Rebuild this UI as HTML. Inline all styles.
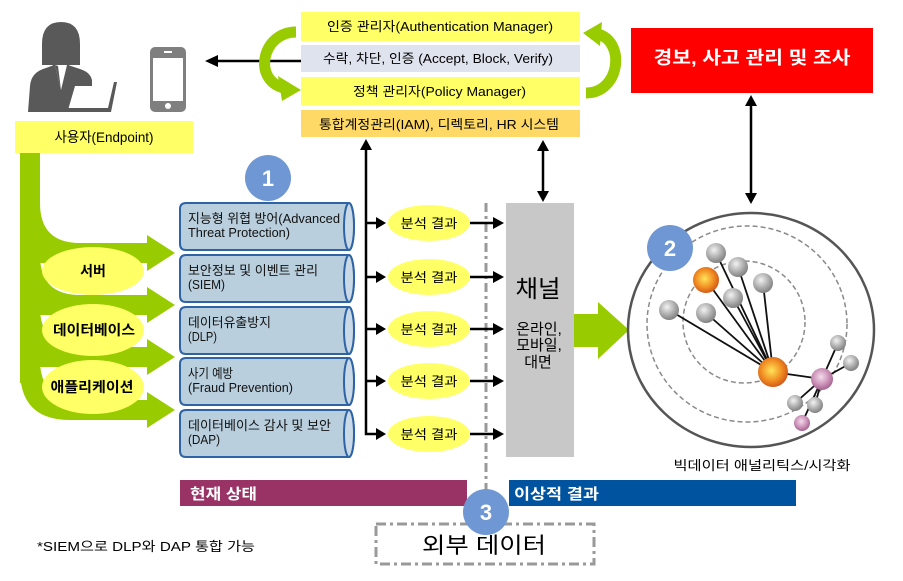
<!DOCTYPE html>
<html><head><meta charset="utf-8">
<style>
html,body{margin:0;padding:0;background:#fff;}
svg{display:block;}
text{font-family:"Liberation Sans","Noto Sans CJK KR",sans-serif;}
</style></head>
<body>
<svg width="903" height="581" viewBox="0 0 903 581" xmlns="http://www.w3.org/2000/svg">
<defs>
<radialGradient id="gg" cx="0.4" cy="0.35" r="0.7">
<stop offset="0" stop-color="#f2f2f2"/><stop offset="0.6" stop-color="#a8a8a8"/><stop offset="1" stop-color="#7a7a7a"/>
</radialGradient>
<radialGradient id="og" cx="0.45" cy="0.45" r="0.6">
<stop offset="0" stop-color="#ffe45a"/><stop offset="0.6" stop-color="#f08a20"/><stop offset="1" stop-color="#c9501a"/>
</radialGradient>
<radialGradient id="pg" cx="0.45" cy="0.4" r="0.65">
<stop offset="0" stop-color="#f3dcec"/><stop offset="0.6" stop-color="#c88cb4"/><stop offset="1" stop-color="#9a5a86"/>
</radialGradient>
</defs>

<!-- person icon -->
<path d="M42,44 Q42,22 61,22 Q80,22 80,44 L80,65 L42,65 Z" fill="#595959"/>
<rect x="53" y="55" width="16" height="14" fill="#595959"/>
<path d="M28,112 L30,86 Q31,72 46,68 L54,65 L68,65 L80,69 Q90,72 92,80 L92,86 L75,86 L68,110 L70,112 Z" fill="#595959"/>
<polygon points="55,65 67,65 61,90" fill="#fff"/>
<polygon points="55,65 61,90 58,66" fill="#595959"/>
<path d="M68,108 L108,108 L114,82 L117,82 L111,112 L68,112 Z" fill="#595959"/>

<!-- phone -->
<rect x="150" y="47" width="36" height="65" rx="5" fill="#7f7f7f"/>
<rect x="153" y="58" width="30" height="43" fill="#fff"/>
<rect x="164" y="51" width="8" height="2" fill="#fff"/>
<circle cx="168" cy="106" r="3" fill="#fff"/>

<!-- endpoint label -->
<rect x="15" y="121" width="178" height="32" fill="#ffff66"/>
<text x="104" y="142" font-size="14" text-anchor="middle" textLength="99" lengthAdjust="spacingAndGlyphs">사용자(Endpoint)</text>

<!-- left green trunk & branches -->
<g fill="#99cc00">
<rect x="20" y="153" width="20" height="230"/>
<path d="M40,203 Q40,243 80,243 L147,243 L147,235 L175,253 L147,271 L147,263 L40,263 Z"/>
<path d="M40,255 Q40,295 80,295 L147,295 L147,287 L175,305 L147,323 L147,315 L40,315 Z"/>
<path d="M40,307 Q40,347 80,347 L147,347 L147,339 L175,357 L147,375 L147,367 L40,367 Z"/>
<path d="M40,360 Q40,400 80,400 L147,400 L147,392 L175,410 L147,428 L147,420 L70,420 Q20,420 20,370 Z"/>
</g>
<g fill="#ffff66">
<ellipse cx="93" cy="271" rx="51" ry="24"/>
<ellipse cx="93" cy="330" rx="51" ry="26"/>
<ellipse cx="93" cy="387" rx="51" ry="27"/>
</g>
<g font-size="14" font-weight="bold" text-anchor="middle">
<text x="93" y="276">서버</text>
<text x="94" y="335" textLength="82" lengthAdjust="spacingAndGlyphs">데이터베이스</text>
<text x="92" y="392" textLength="83" lengthAdjust="spacingAndGlyphs">애플리케이션</text>
</g>

<!-- top boxes -->
<rect x="301" y="12" width="279" height="29" fill="#ffff66"/>
<rect x="301" y="45" width="279" height="27" fill="#dfe3ee"/>
<rect x="301" y="77" width="279" height="28" fill="#ffff66"/>
<rect x="301" y="110" width="279" height="27" fill="#ffd966"/>
<g font-size="13">
<text x="327" y="31" textLength="226" lengthAdjust="spacingAndGlyphs">인증 관리자(Authentication  Manager)</text>
<text x="323" y="63" textLength="230" lengthAdjust="spacingAndGlyphs">수락, 차단, 인증 (Accept, Block, Verify)</text>
<text x="353" y="96" textLength="173" lengthAdjust="spacingAndGlyphs">정책 관리자(Policy  Manager)</text>
<text x="319" y="129" textLength="240" lengthAdjust="spacingAndGlyphs">통합계정관리(IAM), 디렉토리, HR 시스템</text>
</g>

<!-- arrow to phone -->
<line x1="214" y1="61" x2="301" y2="61" stroke="#000" stroke-width="2.5"/>
<polygon points="205,61 218,55 218,67" fill="#000"/>

<!-- green curved arrows around top boxes -->
<path d="M296,32 C262,32 252,80 284,88" fill="none" stroke="#99cc00" stroke-width="11"/>
<polygon points="278,76 301,90 282,101" fill="#99cc00"/>
<path d="M586,93 C620,93 626,42 598,34" fill="none" stroke="#99cc00" stroke-width="11"/>
<polygon points="602,22 583,33 600,46" fill="#99cc00"/>

<!-- red box -->
<rect x="631" y="28" width="242" height="65" fill="#ff0000"/>
<text x="752" y="64" font-size="18" font-weight="bold" fill="#fff" text-anchor="middle" textLength="197" lengthAdjust="spacingAndGlyphs">경보, 사고 관리 및 조사</text>

<!-- vertical double arrows -->
<line x1="751" y1="104" x2="751" y2="195" stroke="#000" stroke-width="2.5"/>
<polygon points="751,95 745,106 757,106" fill="#000"/>
<polygon points="751,204 745,193 757,193" fill="#000"/>
<line x1="543" y1="149" x2="543" y2="193" stroke="#000" stroke-width="2.5"/>
<polygon points="543,140 537,151 549,151" fill="#000"/>
<polygon points="543,202 537,191 549,191" fill="#000"/>

<!-- badge 1 -->
<circle cx="268" cy="178" r="23" fill="#6f97d4"/>
<text x="268" y="186" font-size="22" font-weight="bold" fill="#fff" text-anchor="middle">1</text>

<!-- cylinders -->
<g stroke="#2e63a6" stroke-width="2" fill="#b9cfdd">
<path d="M186,203 H349 A5,23.5 0 0 1 349,250 H186 Q180,250 180,244 V209 Q180,203 186,203 Z"/>
<ellipse cx="349" cy="226.5" rx="5" ry="23.5" fill="#c9dae6"/>
<path d="M186,255 H349 A5,23.5 0 0 1 349,302 H186 Q180,302 180,296 V261 Q180,255 186,255 Z"/>
<ellipse cx="349" cy="278.5" rx="5" ry="23.5" fill="#c9dae6"/>
<path d="M186,307 H349 A5,23.5 0 0 1 349,354 H186 Q180,354 180,348 V313 Q180,307 186,307 Z"/>
<ellipse cx="349" cy="330.5" rx="5" ry="23.5" fill="#c9dae6"/>
<path d="M186,358 H349 A5,23.5 0 0 1 349,405 H186 Q180,405 180,399 V364 Q180,358 186,358 Z"/>
<ellipse cx="349" cy="381.5" rx="5" ry="23.5" fill="#c9dae6"/>
<path d="M186,410 H349 A5,23.5 0 0 1 349,457 H186 Q180,457 180,451 V416 Q180,410 186,410 Z"/>
<ellipse cx="349" cy="433.5" rx="5" ry="23.5" fill="#c9dae6"/>
</g>
<g font-size="13" fill="#111">
<text x="188" y="223" textLength="152" lengthAdjust="spacingAndGlyphs">지능형 위협 방어(Advanced</text>
<text x="188" y="237" textLength="102" lengthAdjust="spacingAndGlyphs">Threat Protection)</text>
<text x="188" y="275" textLength="130" lengthAdjust="spacingAndGlyphs">보안정보 및 이벤트 관리</text>
<text x="188" y="289" textLength="37" lengthAdjust="spacingAndGlyphs">(SIEM)</text>
<text x="188" y="327" textLength="83" lengthAdjust="spacingAndGlyphs">데이터유출방지</text>
<text x="188" y="341" textLength="29" lengthAdjust="spacingAndGlyphs">(DLP)</text>
<text x="188" y="378" textLength="45" lengthAdjust="spacingAndGlyphs">사기 예방</text>
<text x="188" y="392" textLength="105" lengthAdjust="spacingAndGlyphs">(Fraud Prevention)</text>
<text x="188" y="430" textLength="143" lengthAdjust="spacingAndGlyphs">데이터베이스 감사 및 보안</text>
<text x="188" y="444" textLength="32" lengthAdjust="spacingAndGlyphs">(DAP)</text>
</g>

<!-- vertical connector line -->
<path d="M366,148 V434 H378" fill="none" stroke="#000" stroke-width="2.5"/>
<polygon points="366,139 360,150 372,150" fill="#000"/>
<g stroke="#000" stroke-width="2.5">
<line x1="366" y1="223" x2="378" y2="223"/>
<line x1="366" y1="277" x2="378" y2="277"/>
<line x1="366" y1="329" x2="378" y2="329"/>
<line x1="366" y1="381" x2="378" y2="381"/>
</g>
<g fill="#000">
<polygon points="386,223 376,217 376,229"/>
<polygon points="386,277 376,271 376,283"/>
<polygon points="386,329 376,323 376,335"/>
<polygon points="386,381 376,375 376,387"/>
<polygon points="386,434 376,428 376,440"/>
</g>

<!-- dashed separator -->
<line x1="486" y1="203" x2="486" y2="492" stroke="#999" stroke-width="3" stroke-dasharray="9 4 3 4"/>

<!-- analysis ellipses -->
<g fill="#ffff66">
<ellipse cx="429" cy="223" rx="41" ry="18"/>
<ellipse cx="429" cy="277" rx="41" ry="18"/>
<ellipse cx="429" cy="329" rx="41" ry="18"/>
<ellipse cx="429" cy="381" rx="41" ry="18"/>
<ellipse cx="429" cy="434" rx="41" ry="18"/>
</g>
<g font-size="13" text-anchor="middle">
<text x="429" y="228" textLength="57" lengthAdjust="spacingAndGlyphs">분석 결과</text>
<text x="429" y="282" textLength="57" lengthAdjust="spacingAndGlyphs">분석 결과</text>
<text x="429" y="334" textLength="57" lengthAdjust="spacingAndGlyphs">분석 결과</text>
<text x="429" y="386" textLength="57" lengthAdjust="spacingAndGlyphs">분석 결과</text>
<text x="429" y="439" textLength="57" lengthAdjust="spacingAndGlyphs">분석 결과</text>
</g>
<g stroke="#000" stroke-width="2.5">
<line x1="470" y1="223" x2="495" y2="223"/>
<line x1="470" y1="277" x2="495" y2="277"/>
<line x1="470" y1="329" x2="495" y2="329"/>
<line x1="470" y1="381" x2="495" y2="381"/>
<line x1="470" y1="434" x2="495" y2="434"/>
</g>
<g fill="#000">
<polygon points="504,223 493,217 493,229"/>
<polygon points="504,277 493,271 493,283"/>
<polygon points="504,329 493,323 493,335"/>
<polygon points="504,381 493,375 493,387"/>
<polygon points="504,434 493,428 493,440"/>
</g>

<!-- channel box -->
<rect x="506" y="203" width="68" height="254" fill="#c8c8c8"/>
<text x="538" y="297" font-size="24" text-anchor="middle" textLength="45" lengthAdjust="spacingAndGlyphs">채널</text>
<g font-size="15" text-anchor="middle">
<text x="539" y="334">온라인,</text>
<text x="539" y="350">모바일,</text>
<text x="538" y="367">대면</text>
</g>

<!-- green big arrow -->
<polygon points="574,314 598,314 598,302 629,330 598,359 598,347 574,347" fill="#99cc00"/>

<!-- big data circle -->
<ellipse cx="751" cy="330" rx="123" ry="117" fill="none" stroke="#555" stroke-width="2.5"/>
<ellipse cx="747" cy="324" rx="100" ry="98" fill="none" stroke="#8a8a8a" stroke-width="1.5" stroke-dasharray="5 3"/>
<circle cx="744" cy="322" r="61" fill="none" stroke="#8a8a8a" stroke-width="1.5" stroke-dasharray="5 3"/>
<g stroke="#111" stroke-width="1.8">
<line x1="773" y1="372" x2="716" y2="253"/>
<line x1="773" y1="372" x2="738" y2="267"/>
<line x1="773" y1="372" x2="706" y2="280"/>
<line x1="773" y1="372" x2="763" y2="283"/>
<line x1="773" y1="372" x2="733" y2="298"/>
<line x1="773" y1="372" x2="669" y2="310"/>
<line x1="773" y1="372" x2="706" y2="313"/>
<line x1="773" y1="372" x2="822" y2="379"/>
<line x1="822" y1="379" x2="838" y2="343"/>
<line x1="822" y1="379" x2="851" y2="363"/>
<line x1="822" y1="379" x2="795" y2="403"/>
<line x1="822" y1="379" x2="815" y2="405"/>
<line x1="822" y1="379" x2="802" y2="423"/>
</g>
<circle cx="716" cy="253" r="10" fill="url(#gg)"/>
<circle cx="738" cy="267" r="10" fill="url(#gg)"/>
<circle cx="706" cy="280" r="13" fill="url(#og)"/>
<circle cx="763" cy="283" r="10" fill="url(#gg)"/>
<circle cx="733" cy="298" r="10" fill="url(#gg)"/>
<circle cx="669" cy="310" r="10" fill="url(#gg)"/>
<circle cx="706" cy="313" r="10" fill="url(#gg)"/>
<circle cx="773" cy="372" r="15" fill="url(#og)"/>
<circle cx="838" cy="343" r="8" fill="url(#gg)"/>
<circle cx="851" cy="363" r="8" fill="url(#gg)"/>
<circle cx="795" cy="403" r="8" fill="url(#gg)"/>
<circle cx="815" cy="405" r="8" fill="url(#gg)"/>
<circle cx="822" cy="379" r="11" fill="url(#pg)"/>
<circle cx="802" cy="423" r="8" fill="url(#pg)"/>

<!-- badge 2 -->
<circle cx="670" cy="248" r="23" fill="#6f97d4"/>
<text x="670" y="256" font-size="22" font-weight="bold" fill="#fff" text-anchor="middle">2</text>

<text x="762" y="470" font-size="13" text-anchor="middle" textLength="177" lengthAdjust="spacingAndGlyphs">빅데이터 애널리틱스/시각화</text>

<!-- bottom bars -->
<rect x="180" y="480" width="287" height="26" fill="#993366"/>
<text x="190" y="499" font-size="15" font-weight="bold" fill="#fff" textLength="67" lengthAdjust="spacingAndGlyphs">현재 상태</text>
<rect x="509" y="480" width="287" height="26" fill="#00549f"/>
<text x="514" y="499" font-size="15" font-weight="bold" fill="#fff" textLength="85" lengthAdjust="spacingAndGlyphs">이상적 결과</text>

<!-- external data box -->
<rect x="376" y="524" width="218" height="40" fill="none" stroke="#999" stroke-width="3" stroke-dasharray="10 4 3 4"/>
<text x="484" y="553" font-size="22" text-anchor="middle" textLength="124" lengthAdjust="spacingAndGlyphs">외부 데이터</text>

<!-- badge 3 -->
<circle cx="486" cy="512" r="23" fill="#6f97d4"/>
<text x="486" y="520" font-size="22" font-weight="bold" fill="#fff" text-anchor="middle">3</text>

<!-- note -->
<text x="37" y="551" font-size="13" textLength="218" lengthAdjust="spacingAndGlyphs">*SIEM으로 DLP와 DAP 통합 가능</text>
</svg>
</body></html>
